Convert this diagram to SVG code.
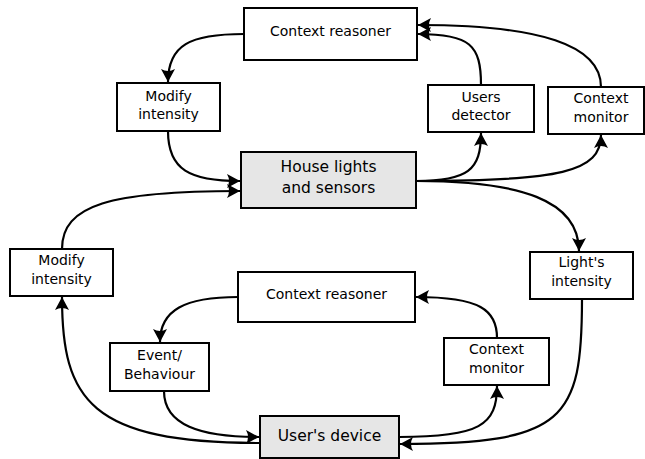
<svg xmlns="http://www.w3.org/2000/svg" width="645" height="459" viewBox="0 0 645 459">
<style>
.box{fill:#ffffff;stroke:#000;stroke-width:2}
.gray{fill:#e6e6e6;stroke:#000;stroke-width:2}
.t{font-family:"DejaVu Sans",sans-serif;font-size:14px;fill:#000;text-anchor:middle}
.tl{font-family:"DejaVu Sans",sans-serif;font-size:15.5px;fill:#000;text-anchor:middle}
.c{fill:none;stroke:#000;stroke-width:2.2}
.a{marker-end:url(#arr)}
</style>
<defs>
<marker id="arr" markerUnits="userSpaceOnUse" orient="auto" markerWidth="18" markerHeight="18" viewBox="-15 -9 16 18" refX="0" refY="0">
<path d="M0,0 L-13,-7 Q-9,0 -13,7 Z" fill="#000"/>
</marker>
</defs>
<g id="connectors">
<path class="c a" d="M244,34 C190,34 168,45 168,82"/>
<path class="c a" d="M168,131 C168,170 190,181 240,181"/>
<path class="c a" d="M62,249 C62,205 110,191 240,191"/>
<path class="c a" d="M416,181 C468,181 481,170 481,133"/>
<path class="c a" d="M416,181 C560,181 601,172 601,135"/>
<path class="c a" d="M416,181 C520,181 579,200 579,251"/>
<path class="c a" d="M481,85 C481,45 470,34 418,34"/>
<path class="c a" d="M601,87 C601,45 540,25 418,25"/>
<path class="c a" d="M238,297 C185,297 160,310 160,342"/>
<path class="c a" d="M164,391 C164,425 200,437 259,437"/>
<path class="c a" d="M260,443 C90,443 62,400 62,297"/>
<path class="c a" d="M399,437 C480,437 497,425 497,386"/>
<path class="c a" d="M582,299 C582,420 565,444 400,444"/>
<path class="c a" d="M497,338 C497,310 480,297 416,297"/>
</g>
<g id="ctx-reasoner-top"><rect class="box" x="244" y="8" width="173" height="52"/><text class="t" x="330.5" y="36">Context reasoner</text></g>
<g id="modify-top"><rect class="box" x="117" y="83" width="103" height="48"/><text class="t" x="168.5" y="101">Modify</text><text class="t" x="168.5" y="119">intensity</text></g>
<g id="house"><rect class="gray" x="241" y="152" width="175" height="56"/><text class="tl" x="328.5" y="172">House lights</text><text class="tl" x="328.5" y="193">and sensors</text></g>
<g id="users-detector"><rect class="box" x="428" y="85" width="106" height="47"/><text class="t" x="481" y="102">Users</text><text class="t" x="481" y="120">detector</text></g>
<g id="ctx-monitor-top"><rect class="box" x="548" y="87" width="96" height="47"/><text class="t" x="601" y="103">Context</text><text class="t" x="601" y="122">monitor</text></g>
<g id="modify-left"><rect class="box" x="10" y="249" width="103" height="47"/><text class="t" x="61.5" y="265">Modify</text><text class="t" x="61.5" y="284">intensity</text></g>
<g id="lights-intensity"><rect class="box" x="530" y="252" width="103" height="47"/><text class="t" x="581.5" y="267">Light's</text><text class="t" x="581.5" y="286">intensity</text></g>
<g id="ctx-reasoner-bottom"><rect class="box" x="238" y="272" width="177" height="50"/><text class="t" x="326.5" y="299">Context reasoner</text></g>
<g id="event"><rect class="box" x="110" y="343" width="99" height="48"/><text class="t" x="159.5" y="360">Event/</text><text class="t" x="159.5" y="379">Behaviour</text></g>
<g id="ctx-monitor-bottom"><rect class="box" x="444" y="338" width="105" height="47"/><text class="t" x="496.5" y="354">Context</text><text class="t" x="496.5" y="373">monitor</text></g>
<g id="users-device"><rect class="gray" x="260" y="416" width="139" height="42"/><text class="tl" x="329.5" y="441">User's device</text></g>
</svg>
